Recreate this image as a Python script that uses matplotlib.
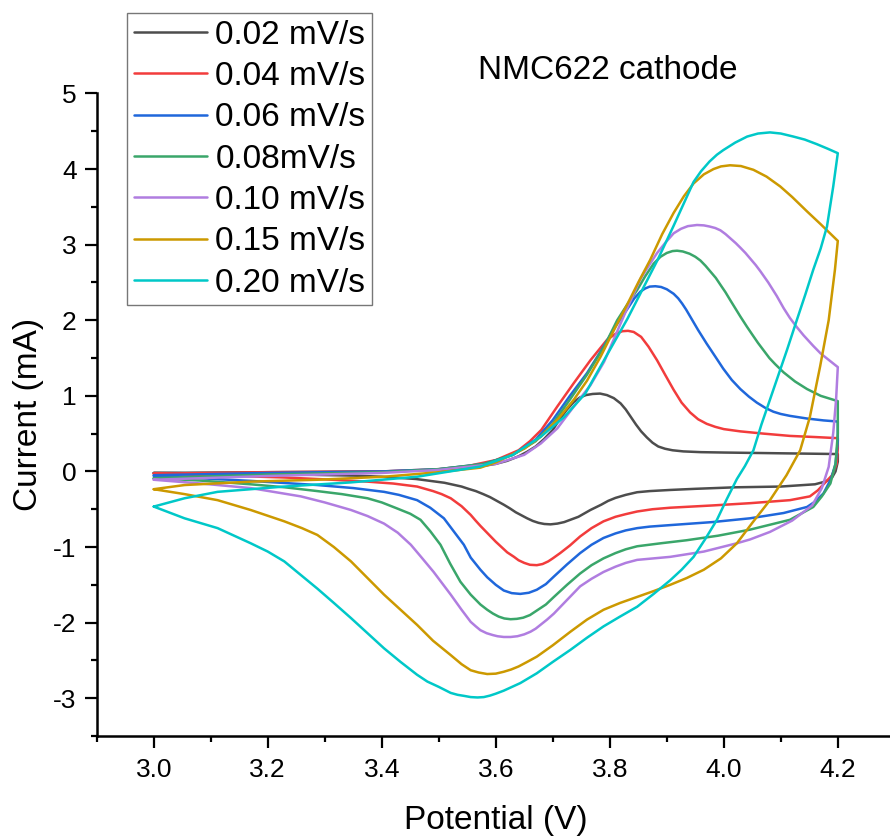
import matplotlib
matplotlib.use("Agg")
import matplotlib.pyplot as plt
from matplotlib.ticker import MultipleLocator, FormatStrFormatter

plt.rcParams['font.family'] = ['Liberation Sans', 'DejaVu Sans']
plt.rcParams['axes.unicode_minus'] = False

# ---- cyclic voltammograms, NMC622 cathode ----
labels = ["0.02 mV/s", "0.04 mV/s", "0.06 mV/s", "0.08mV/s",
          "0.10 mV/s", "0.15 mV/s", "0.20 mV/s"]
colors = ["#4d4d4d", "#f23c3c", "#1f67db", "#3aa66a",
          "#b07de0", "#cc9900", "#00c8c8"]

# 0.02 mV/s : anodic sweep (3.0 -> 4.2 V) and cathodic sweep (4.2 -> 3.0 V)
v_an_002 = [3.00, 3.20, 3.40, 3.50, 3.56, 3.60, 3.62, 3.64, 3.655, 3.67,
            3.685, 3.70, 3.712, 3.725, 3.737, 3.748, 3.758, 3.770, 3.783, 3.795,
            3.807, 3.819, 3.828, 3.837, 3.846, 3.855, 3.865, 3.875, 3.885, 3.897,
            3.910, 3.929, 3.960, 4.000, 4.100, 4.200]
i_an_002 = [-0.02, -0.01, 0.00, 0.02, 0.05, 0.10, 0.14, 0.20, 0.26, 0.33,
            0.43, 0.55, 0.69, 0.82, 0.92, 0.98, 1.01, 1.025, 1.03, 1.01,
            0.97, 0.90, 0.82, 0.72, 0.62, 0.53, 0.45, 0.38, 0.33, 0.30,
            0.28, 0.265, 0.255, 0.25, 0.24, 0.23]
v_ca_002 = [4.200, 4.200, 4.196, 4.190, 4.180, 4.160, 4.100, 4.020, 3.950, 3.906,
            3.870, 3.848, 3.828, 3.810, 3.797, 3.785, 3.766, 3.745, 3.720, 3.708,
            3.696, 3.685, 3.675, 3.665, 3.655, 3.645, 3.635, 3.625, 3.614, 3.602,
            3.590, 3.578, 3.565, 3.552, 3.540, 3.510, 3.460, 3.400, 3.350, 3.200,
            3.000]
i_ca_002 = [0.23, 0.13, 0.00, -0.08, -0.13, -0.17, -0.20, -0.21, -0.23, -0.245,
            -0.26, -0.275, -0.31, -0.35, -0.39, -0.44, -0.51, -0.60, -0.67, -0.69,
            -0.70, -0.695, -0.68, -0.655, -0.62, -0.58, -0.54, -0.49, -0.44, -0.39,
            -0.34, -0.30, -0.26, -0.23, -0.20, -0.15, -0.10, -0.07, -0.055, -0.035,
            -0.02]

# 0.04 mV/s
v_an_004 = [3.00, 3.20, 3.40, 3.50, 3.55, 3.60, 3.64, 3.66, 3.68, 3.708,
            3.737, 3.766, 3.795, 3.810, 3.822, 3.832, 3.842, 3.855, 3.868, 3.883,
            3.897, 3.912, 3.926, 3.941, 3.955, 3.970, 3.985, 4.000, 4.029, 4.070,
            4.116, 4.160, 4.200]
i_an_004 = [-0.03, -0.01, 0.00, 0.03, 0.07, 0.15, 0.28, 0.40, 0.55, 0.86,
            1.17, 1.47, 1.74, 1.82, 1.855, 1.86, 1.845, 1.78, 1.65, 1.47,
            1.28, 1.08, 0.91, 0.78, 0.69, 0.63, 0.59, 0.56, 0.53, 0.50,
            0.47, 0.455, 0.44]
v_ca_004 = [4.200, 4.200, 4.198, 4.190, 4.180, 4.165, 4.151, 4.116, 4.046, 3.980,
            3.906, 3.875, 3.848, 3.828, 3.810, 3.789, 3.768, 3.748, 3.730, 3.713,
            3.700, 3.692, 3.682, 3.672, 3.660, 3.650, 3.640, 3.632, 3.620, 3.610,
            3.600, 3.591, 3.582, 3.573, 3.564, 3.556, 3.540, 3.521, 3.505, 3.490,
            3.462, 3.420, 3.375, 3.300, 3.229, 3.100, 3.000]
i_ca_004 = [0.44, 0.30, 0.10, -0.05, -0.13, -0.25, -0.33, -0.38, -0.42, -0.45,
            -0.48, -0.50, -0.53, -0.565, -0.60, -0.66, -0.75, -0.86, -0.98, -1.08,
            -1.15, -1.19, -1.225, -1.24, -1.235, -1.21, -1.175, -1.13, -1.07, -1.00,
            -0.93, -0.86, -0.79, -0.72, -0.645, -0.575, -0.46, -0.355, -0.30, -0.26,
            -0.20, -0.16, -0.135, -0.105, -0.08, -0.05, -0.03]

# 0.06 mV/s
v_an_006 = [3.00, 3.20, 3.40, 3.50, 3.58, 3.63, 3.67, 3.70, 3.73, 3.76,
            3.785, 3.81, 3.83, 3.843, 3.854, 3.862, 3.870, 3.880, 3.890, 3.900,
            3.912, 3.920, 3.927, 3.934, 3.941, 3.955, 3.970, 3.985, 3.999, 4.014,
            4.029, 4.044, 4.058, 4.073, 4.087, 4.100, 4.116, 4.146, 4.175, 4.200]
i_an_006 = [-0.05, -0.02, 0.00, 0.03, 0.10, 0.22, 0.42, 0.68, 1.00, 1.30,
            1.60, 1.92, 2.14, 2.29, 2.38, 2.42, 2.445, 2.45, 2.44, 2.41,
            2.35, 2.29, 2.22, 2.14, 2.05, 1.87, 1.69, 1.52, 1.36, 1.21,
            1.09, 0.99, 0.91, 0.84, 0.79, 0.76, 0.735, 0.70, 0.675, 0.66]
v_ca_006 = [4.200, 4.200, 4.196, 4.188, 4.175, 4.160, 4.146, 4.105, 4.046, 3.980,
            3.906, 3.870, 3.848, 3.828, 3.810, 3.789, 3.768, 3.748, 3.725, 3.702,
            3.688, 3.672, 3.658, 3.643, 3.628, 3.614, 3.600, 3.585, 3.573, 3.556,
            3.544, 3.525, 3.509, 3.485, 3.462, 3.430, 3.404, 3.350, 3.287, 3.170,
            3.080, 3.000]
i_ca_006 = [0.66, 0.40, 0.10, -0.10, -0.29, -0.40, -0.47, -0.55, -0.62, -0.67,
            -0.71, -0.73, -0.75, -0.78, -0.82, -0.88, -0.97, -1.08, -1.23, -1.39,
            -1.49, -1.565, -1.605, -1.62, -1.61, -1.575, -1.50, -1.40, -1.30, -1.14,
            -0.97, -0.78, -0.62, -0.48, -0.38, -0.31, -0.27, -0.22, -0.18, -0.125,
            -0.09, -0.06]

# 0.08 mV/s
v_an_008 = [3.00, 3.20, 3.40, 3.50, 3.58, 3.63, 3.67, 3.70, 3.73, 3.76,
            3.79, 3.813, 3.830, 3.848, 3.862, 3.877, 3.889, 3.900, 3.910, 3.918,
            3.928, 3.940, 3.950, 3.959, 3.968, 3.977, 3.986, 3.994, 4.003, 4.011,
            4.020, 4.029, 4.041, 4.050, 4.060, 4.070, 4.080, 4.090, 4.105, 4.125,
            4.146, 4.170, 4.200]
i_an_008 = [-0.09, -0.04, -0.01, 0.03, 0.10, 0.22, 0.40, 0.63, 0.95, 1.28,
            1.65, 2.00, 2.20, 2.40, 2.58, 2.75, 2.84, 2.89, 2.915, 2.92,
            2.91, 2.88, 2.84, 2.79, 2.72, 2.64, 2.56, 2.47, 2.37, 2.27,
            2.16, 2.05, 1.91, 1.81, 1.70, 1.60, 1.50, 1.42, 1.31, 1.19,
            1.09, 1.00, 0.93]
v_ca_008 = [4.200, 4.200, 4.196, 4.187, 4.172, 4.157, 4.116, 4.046, 3.990, 3.935,
            3.890, 3.848, 3.828, 3.810, 3.789, 3.768, 3.748, 3.725, 3.702, 3.688,
            3.672, 3.660, 3.648, 3.637, 3.626, 3.615, 3.605, 3.595, 3.585, 3.573,
            3.556, 3.538, 3.520, 3.503, 3.485, 3.468, 3.450, 3.427, 3.400, 3.375,
            3.330, 3.287, 3.230, 3.170, 3.080, 3.000]
i_ca_008 = [0.93, 0.50, 0.10, -0.16, -0.33, -0.47, -0.64, -0.77, -0.85, -0.91,
            -0.95, -0.99, -1.03, -1.08, -1.15, -1.24, -1.35, -1.50, -1.66, -1.76,
            -1.84, -1.90, -1.935, -1.95, -1.955, -1.945, -1.92, -1.88, -1.83, -1.76,
            -1.63, -1.46, -1.22, -0.97, -0.79, -0.64, -0.56, -0.49, -0.41, -0.355,
            -0.30, -0.26, -0.21, -0.17, -0.12, -0.09]

# 0.10 mV/s
v_an_010 = [3.00, 3.20, 3.40, 3.50, 3.60, 3.65, 3.679, 3.708, 3.737, 3.766,
            3.790, 3.810, 3.830, 3.854, 3.870, 3.883, 3.898, 3.912, 3.925, 3.937,
            3.953, 3.965, 3.975, 3.985, 3.994, 4.003, 4.012, 4.021, 4.029, 4.038,
            4.047, 4.056, 4.064, 4.078, 4.093, 4.105, 4.116, 4.128, 4.140, 4.157,
            4.170, 4.185, 4.200]
i_an_010 = [-0.11, -0.06, -0.02, 0.02, 0.10, 0.22, 0.37, 0.57, 0.86, 1.14,
            1.45, 1.80, 2.15, 2.55, 2.74, 2.89, 3.03, 3.15, 3.21, 3.245,
            3.26, 3.255, 3.24, 3.22, 3.19, 3.14, 3.08, 3.02, 2.96, 2.89,
            2.81, 2.73, 2.65, 2.50, 2.32, 2.16, 2.03, 1.91, 1.80, 1.66,
            1.56, 1.47, 1.38]
v_ca_010 = [4.200, 4.197, 4.192, 4.184, 4.172, 4.155, 4.120, 4.081, 4.046, 4.023,
            3.965, 3.906, 3.848, 3.828, 3.810, 3.789, 3.768, 3.748, 3.725, 3.702,
            3.690, 3.680, 3.670, 3.661, 3.650, 3.638, 3.626, 3.614, 3.603, 3.595,
            3.584, 3.573, 3.565, 3.556, 3.540, 3.521, 3.505, 3.491, 3.470, 3.451,
            3.428, 3.404, 3.375, 3.346, 3.300, 3.258, 3.170, 3.083, 3.000]
i_ca_010 = [1.38, 0.95, 0.51, 0.06, -0.22, -0.45, -0.65, -0.80, -0.90, -0.95,
            -1.06, -1.13, -1.17, -1.21, -1.26, -1.33, -1.42, -1.52, -1.70, -1.88,
            -1.96, -2.02, -2.08, -2.12, -2.155, -2.18, -2.19, -2.19, -2.18, -2.165,
            -2.14, -2.10, -2.05, -1.99, -1.83, -1.63, -1.47, -1.33, -1.14, -0.97,
            -0.81, -0.69, -0.59, -0.51, -0.41, -0.33, -0.22, -0.16, -0.11]

# 0.15 mV/s
v_an_015 = [3.000, 3.054, 3.170, 3.287, 3.404, 3.500, 3.573, 3.600, 3.650, 3.679,
            3.710, 3.737, 3.760, 3.784, 3.806, 3.830, 3.850, 3.871, 3.892, 3.912,
            3.930, 3.947, 3.965, 3.982, 3.995, 4.011, 4.030, 4.052, 4.075, 4.099,
            4.120, 4.146, 4.170, 4.200]
i_an_015 = [-0.235, -0.18, -0.135, -0.11, -0.07, -0.01, 0.05, 0.12, 0.30, 0.46,
            0.70, 0.95, 1.20, 1.52, 1.85, 2.20, 2.50, 2.80, 3.14, 3.42,
            3.64, 3.81, 3.93, 4.00, 4.035, 4.05, 4.04, 3.99, 3.90, 3.77,
            3.63, 3.44, 3.27, 3.05]
v_ca_015 = [4.200, 4.195, 4.184, 4.169, 4.151, 4.134, 4.110, 4.081, 4.050, 4.023,
            3.995, 3.965, 3.935, 3.906, 3.878, 3.848, 3.818, 3.789, 3.760, 3.731,
            3.700, 3.672, 3.655, 3.640, 3.627, 3.614, 3.600, 3.585, 3.570, 3.556,
            3.540, 3.521, 3.490, 3.462, 3.433, 3.404, 3.375, 3.346, 3.316, 3.287,
            3.260, 3.229, 3.170, 3.112, 3.054, 3.000]
i_ca_015 = [3.05, 2.67, 2.00, 1.39, 0.72, 0.28, -0.05, -0.38, -0.68, -0.95,
            -1.15, -1.30, -1.41, -1.50, -1.58, -1.66, -1.74, -1.83, -1.96, -2.12,
            -2.30, -2.45, -2.52, -2.58, -2.62, -2.65, -2.675, -2.68, -2.66, -2.63,
            -2.55, -2.43, -2.24, -2.03, -1.83, -1.63, -1.41, -1.19, -1.00, -0.84,
            -0.75, -0.66, -0.51, -0.38, -0.30, -0.235]

# 0.20 mV/s
v_an_020 = [3.000, 3.054, 3.112, 3.229, 3.346, 3.462, 3.573, 3.630, 3.679, 3.720,
            3.757, 3.798, 3.831, 3.848, 3.884, 3.912, 3.947, 3.960, 3.975, 3.988,
            3.999, 4.020, 4.041, 4.060, 4.081, 4.100, 4.122, 4.142, 4.163, 4.182,
            4.200]
i_an_020 = [-0.465, -0.355, -0.27, -0.20, -0.145, -0.07, 0.065, 0.22, 0.46, 0.72,
            1.03, 1.58, 2.02, 2.27, 2.80, 3.25, 3.83, 3.97, 4.10, 4.19,
            4.25, 4.35, 4.43, 4.47, 4.485, 4.47, 4.43, 4.39, 4.33, 4.27,
            4.21]
v_ca_020 = [4.200, 4.192, 4.181, 4.170, 4.157, 4.143, 4.128, 4.111, 4.096, 4.081,
            4.066, 4.052, 4.037, 4.023, 4.005, 3.988, 3.967, 3.947, 3.926, 3.906,
            3.877, 3.848, 3.818, 3.789, 3.760, 3.731, 3.700, 3.672, 3.643, 3.614,
            3.600, 3.590, 3.579, 3.568, 3.556, 3.545, 3.533, 3.521, 3.500, 3.480,
            3.462, 3.433, 3.404, 3.375, 3.346, 3.316, 3.287, 3.258, 3.229, 3.200,
            3.170, 3.112, 3.054, 3.000]
i_ca_020 = [4.21, 3.77, 3.24, 2.95, 2.67, 2.34, 2.00, 1.61, 1.28, 0.95,
            0.62, 0.28, 0.07, -0.10, -0.37, -0.64, -0.90, -1.13, -1.30, -1.44,
            -1.62, -1.79, -1.92, -2.05, -2.20, -2.36, -2.52, -2.67, -2.80, -2.90,
            -2.94, -2.965, -2.985, -2.99, -2.985, -2.97, -2.955, -2.93, -2.85, -2.78,
            -2.69, -2.52, -2.34, -2.14, -1.94, -1.74, -1.55, -1.37, -1.19, -1.06,
            -0.95, -0.75, -0.62, -0.465]

sweeps = [
    (v_an_002, i_an_002, v_ca_002, i_ca_002),
    (v_an_004, i_an_004, v_ca_004, i_ca_004),
    (v_an_006, i_an_006, v_ca_006, i_ca_006),
    (v_an_008, i_an_008, v_ca_008, i_ca_008),
    (v_an_010, i_an_010, v_ca_010, i_ca_010),
    (v_an_015, i_an_015, v_ca_015, i_ca_015),
    (v_an_020, i_an_020, v_ca_020, i_ca_020),
]

fig = plt.figure(figsize=(8.9, 8.36), dpi=100)
ax = fig.add_axes([0.1087, 0.1196, 0.8967, 0.7686])

handles = []
for (va, ia, vc, ic), lab, col in zip(sweeps, labels, colors):
    v = list(va) + list(vc)
    i = list(ia) + list(ic)
    h, = ax.plot(v, i, color=col, lw=1.8, label=lab,
                 solid_joinstyle='round', solid_capstyle='round')
    handles.append(h)

ax.set_xlim(2.9, 4.3)
ax.set_ylim(-3.5, 5.0)
ax.xaxis.set_major_locator(MultipleLocator(0.2))
ax.xaxis.set_minor_locator(MultipleLocator(0.1))
ax.xaxis.set_major_formatter(FormatStrFormatter('%.1f'))
ax.yaxis.set_major_locator(MultipleLocator(1))
ax.yaxis.set_minor_locator(MultipleLocator(0.5))

for s in ('top', 'right'):
    ax.spines[s].set_visible(False)
for s in ('left', 'bottom'):
    ax.spines[s].set_linewidth(1.8)

ax.tick_params(which='major', direction='out', length=8.5, width=1.6, labelsize=19, pad=7.5)
ax.tick_params(which='minor', direction='out', length=4.5, width=1.6)
ax.tick_params(axis='y', which='major', pad=6)

ax.set_xlabel("Potential (V)", fontsize=24)
ax.set_ylabel("Current (mA)", fontsize=24)
ax.xaxis.set_label_coords(0.5, -0.107)
ax.yaxis.set_label_coords(-0.066, 0.5)

fig.text(478 / 890, 1 - 79 / 836, "NMC622 cathode", fontsize=24,
         ha='left', va='baseline')

leg = fig.legend(handles=handles, loc='upper left',
                 bbox_to_anchor=(127 / 890, 1 - 13 / 836),
                 bbox_transform=fig.transFigure, fontsize=24,
                 frameon=True, fancybox=False, borderaxespad=0,
                 borderpad=0.2, labelspacing=0.31, handlelength=2.2,
                 handletextpad=0.25)
leg.get_frame().set_edgecolor('#555555')
leg.get_frame().set_linewidth(1.0)

fig.savefig("out.png", dpi=100)
